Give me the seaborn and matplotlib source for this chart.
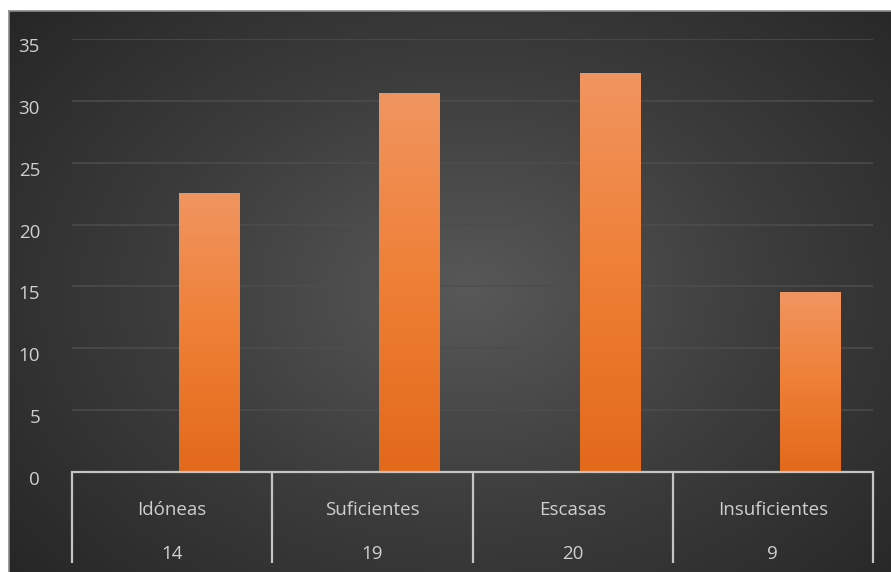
import numpy as np
import pandas as pd
import matplotlib
matplotlib.use("Agg")
import matplotlib.pyplot as plt
import matplotlib.transforms as mtransforms
import matplotlib.patheffects as pe
from matplotlib.colors import LinearSegmentedColormap
import seaborn as sns

# Datos
categorias = ["Idóneas", "Suficientes", "Escasas", "Insuficientes"]
frecuencias = [14, 19, 20, 9]
yticks = [0, 5, 10, 15, 20, 25, 30, 35]

total = sum(frecuencias)
porcentajes = [100 * f / total for f in frecuencias]

sns.set_theme(style="dark")
plt.rcParams["font.family"] = ["Open Sans", "DejaVu Sans"]

W, H = 891, 572
fig = plt.figure(figsize=(W / 100, H / 100), dpi=100, facecolor="white")

# Fondo oscuro con degradado radial
bg = fig.add_axes([9 / W, 0, (W - 9) / W, (H - 11) / H])
yy, xx = np.mgrid[0:1:300j, 0:1:470j]
r = np.sqrt(((xx - 0.52) / 0.70) ** 2 + ((yy - 0.50) / 0.80) ** 2)
bg_cmap = LinearSegmentedColormap.from_list("fondo", ["#585858", "#3c3c3c", "#252525"])
bg.imshow(np.clip(r, 0, 1), cmap=bg_cmap, aspect="auto", extent=[0, 1, 0, 1],
          vmin=0, vmax=1, interpolation="bicubic")
bg.set_xticks([])
bg.set_yticks([])
for name, sp in bg.spines.items():
    sp.set_color("#8a8a8a")
    sp.set_linewidth(1.2)
    sp.set_visible(name in ("top", "left"))

# Área del gráfico
ax = fig.add_axes([72 / W, (H - 472) / H, 801 / W, 433 / H])
ax.set_facecolor("none")

df = pd.DataFrame({
    "categoria": categorias * 2,
    "serie": ["Frecuencia"] * len(categorias) + ["Porcentaje"] * len(categorias),
    "valor": [np.nan] * len(categorias) + porcentajes,
})

sns.barplot(data=df, x="categoria", y="valor", hue="serie",
            order=categorias, hue_order=["Frecuencia", "Porcentaje"],
            palette=["#000000", "#ED7D31"], width=0.74, gap=0.19,
            legend=False, ax=ax, zorder=3)

# Relleno degradado de las barras
bar_cmap = LinearSegmentedColormap.from_list("naranja", ["#E3691B", "#EE7F35", "#F19560"])
grad = np.linspace(0, 1, 256).reshape(-1, 1)
for p in list(ax.patches):
    h = p.get_height()
    if not np.isfinite(h) or h <= 0:
        continue
    x0 = p.get_x()
    w = p.get_width()
    p.set_edgecolor("none")
    p.set_path_effects([pe.SimplePatchShadow(offset=(0, 0), shadow_rgbFace="#151515", alpha=0.6),
                        pe.Normal()])
    im = ax.imshow(grad, cmap=bar_cmap, origin="lower", aspect="auto",
                   extent=[x0, x0 + w, 0, h], zorder=4, interpolation="bilinear")
    im.set_clip_path(p)

ax.set_xlim(-0.5, len(categorias) - 0.5)
ax.set_ylim(0, 35)
ax.set_yticks(yticks)
ax.set_yticklabels([str(t) for t in yticks])
ax.set_xticks([])
ax.set_xlabel("")
ax.set_ylabel("")
ax.yaxis.grid(True, color="#4d4d4d", linewidth=1.1)
ax.xaxis.grid(False)
ax.tick_params(axis="y", length=0, pad=23, labelsize=13.5, labelcolor="#cfcfcf")
offset = mtransforms.ScaledTranslation(0, -6 / 100, fig.dpi_scale_trans)
for lab in ax.get_yticklabels():
    lab.set_transform(lab.get_transform() + offset)

for name, sp in ax.spines.items():
    sp.set_visible(name == "bottom")
ax.spines["bottom"].set_color("#c4c4c4")
ax.spines["bottom"].set_linewidth(1.6)
ax.spines["bottom"].set_zorder(5)

# Tabla de datos bajo el eje
trans = ax.get_xaxis_transform()
for b in np.arange(-0.5, len(categorias), 1.0):
    ax.plot([b, b], [0, -91 / 433], transform=trans, color="#c4c4c4",
            linewidth=1.6, clip_on=False, solid_capstyle="butt")
for i, (cat, n) in enumerate(zip(categorias, frecuencias)):
    ax.text(i, -38 / 433, cat, transform=trans, ha="center", va="center",
            fontsize=13.5, color="#cfcfcf")
    ax.text(i, -82 / 433, str(n), transform=trans, ha="center", va="center",
            fontsize=13.5, color="#cfcfcf")

fig.savefig("out.png", dpi=100, facecolor="white")
